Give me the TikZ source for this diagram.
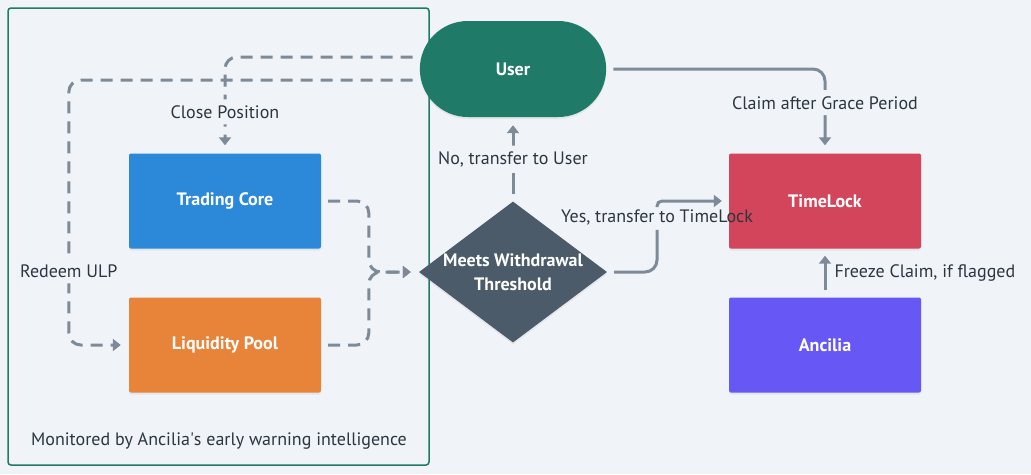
\documentclass[tikz,border=0pt]{standalone}
\usepackage{fontspec}
\setsansfont{PT Sans}
\usetikzlibrary{
  arrows.meta,
  shapes.misc,
  shapes.geometric,
  shadows
}
\definecolor{pagebg}{HTML}{F0F4F8}
\definecolor{groupc}{HTML}{1F7A67}
\definecolor{userc}{HTML}{1F7A67}
\definecolor{corec}{HTML}{2C88D9}
\definecolor{poolc}{HTML}{E8833A}
\definecolor{checkc}{HTML}{4B5B6A}
\definecolor{lockc}{HTML}{D3455B}
\definecolor{ancc}{HTML}{6758F5}
\definecolor{linec}{HTML}{7D8A98}
\definecolor{labelc}{HTML}{2B3640}

\begin{document}
\begin{tikzpicture}[
      x=1pt,y=-1pt,
      nodefont/.style={font=\sffamily\bfseries\fontsize{18}{24}\selectfont},
      box/.style={
         rectangle,
         rounded corners=2pt,
         minimum width=192pt,
         minimum height=95pt,
         text=white,
         nodefont,
         drop shadow={shadow xshift=0pt,shadow yshift=-2pt,opacity=0.12}
      },
      pill/.style={
         rounded rectangle,
         minimum width=193pt,
         minimum height=96pt,
         fill=userc,
         text=white,
         nodefont,
         drop shadow={shadow xshift=0pt,shadow yshift=-2pt,opacity=0.12}
      },
      decision/.style={
         diamond,
         aspect=1.333,
         inner sep=-4pt,
         minimum width=188pt,
         minimum height=141pt,
         fill=checkc,
         text=white,
         align=center,
         nodefont,
         drop shadow={shadow xshift=0pt,shadow yshift=-2pt,opacity=0.12}
      },
      group/.style={
         rectangle,
         rounded corners=3pt,
         line width=1.5pt,
         draw=groupc
      },
      lbl/.style={font=\sffamily\fontsize{18}{20}\selectfont,text=labelc,inner sep=2pt},
      cut/.style={fill=pagebg,inner ysep=6pt},
      flow/.style={line width=3pt,draw=linec,rounded corners=12pt,shorten <=7pt,shorten >=8pt},
      dashflow/.style={flow,dash pattern=on 12pt off 8pt},
      tip/.style={-{Triangle[length=8pt,width=12pt]}}
    ]
    % page
    \fill[pagebg] (0,0) rectangle (1031,474);
    \useasboundingbox (0,0) rectangle (1031,474);

    % monitored group
    \node (grp) [group, minimum width=421pt, minimum height=457pt] at (218.5,236.5) {};
    \node (note) [lbl] at (219,441) {Monitored by Ancilia\textquotesingle s early warning intelligence};

    % nodes
    \node (user)  [pill] at (513,69) {User};
    \node (core)  [box, fill=corec] at (225,201) {Trading Core};
    \node (pool)  [box, fill=poolc] at (225,345) {Liquidity Pool};
    \node (check) [decision] at (513,272) {Meets Withdrawal\\Threshold};
    \node (lock)  [box, fill=lockc] at (825,201) {TimeLock};
    \node (anc)   [box, fill=ancc] at (825,345) {Ancilia};

    % user into the group
    \draw[dashflow,tip] ([yshift=12pt]user.west) -| node[lbl,cut,pos=0.785] {Close Position} (core.north);
    \draw[dashflow,tip] ([yshift=-11pt]user.west) -| node[lbl,cut,pos=0.86] {Redeem ULP} ([xshift=-60pt]pool.west) -- (pool.west);

    % group into the check
    \draw[dashflow,tip] (core.east) -| ([xshift=-50pt]check.west) -- (check.west);
    \draw[dashflow,tip] (pool.east) -| ([xshift=-50pt]check.west) -- (check.west);

    % outcomes
    \draw[flow,tip] (check.north) -- node[lbl,cut] {No, transfer to User} (user.south);
    \node (yes) [lbl] at (657,217) {Yes, transfer to TimeLock};
    \draw[flow,shorten >=3pt] (check.east) -| (yes.south);
    \draw[flow,tip,rounded corners=5pt,shorten <=0pt,shorten >=7pt] (yes.north) |- (lock.west);
    \draw[flow,tip] (user.east) -| node[lbl,cut,pos=0.70] {Claim after Grace Period} (lock.north);
    \draw[flow,tip,shorten >=7pt] (anc.north) -- node[lbl,right,xshift=6pt] {Freeze Claim, if flagged} (lock.south);
\end{tikzpicture}
\end{document}
